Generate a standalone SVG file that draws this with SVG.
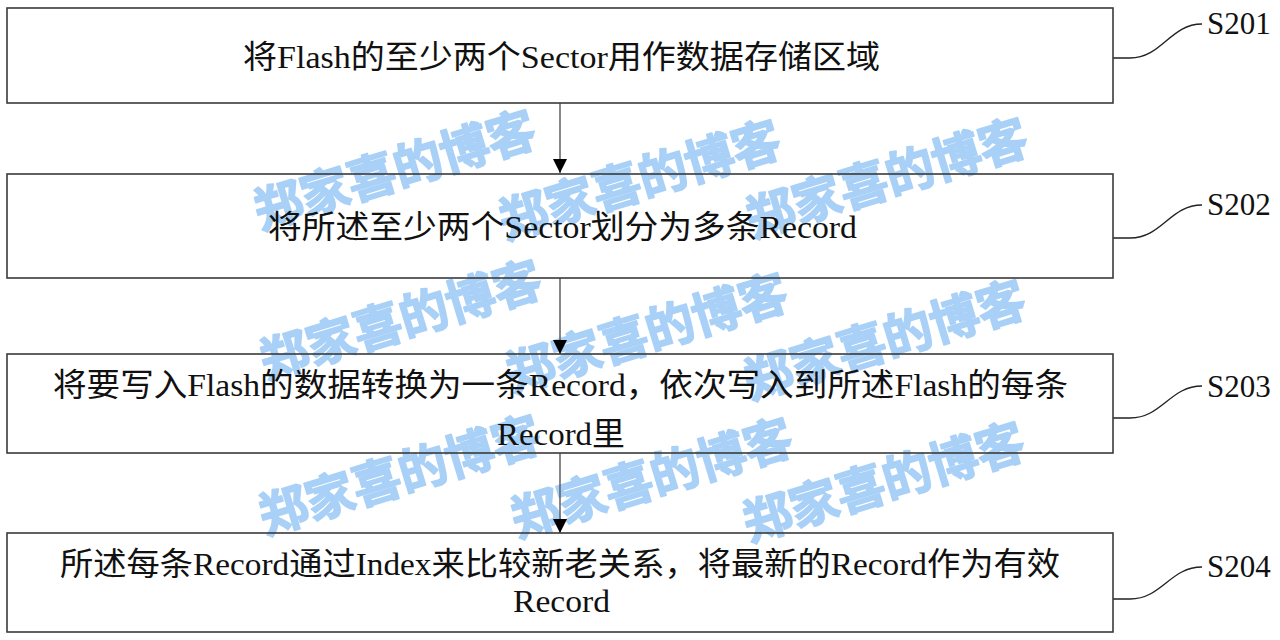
<svg xmlns="http://www.w3.org/2000/svg" width="1280" height="640" viewBox="0 0 1280 640">
<defs>
<style>
.box{fill:none;stroke:#3a3a3a;stroke-width:1.6}
.t{font-family:"Liberation Serif","Noto Sans CJK SC",serif;font-size:32px;fill:#111}
.lbl{font-family:"Liberation Serif","Noto Sans CJK SC",serif;font-size:31px;fill:#111}
.ld{fill:none;stroke:#222;stroke-width:1.4}
.ar{stroke:#555;stroke-width:1.4}
.wm{font-family:"Noto Sans CJK SC",sans-serif;font-weight:bold;font-size:49px;fill:#a9d0f7;stroke:#a9d0f7;stroke-width:1.6;stroke-linejoin:round;text-anchor:middle}
</style>
<marker id="ah" markerWidth="14" markerHeight="14" viewBox="0 0 14 14" refX="14" refY="7" orient="auto" markerUnits="userSpaceOnUse">
<path d="M0,0 L14,7 L0,14 Z" fill="#000"/>
</marker>
</defs>
<rect width="1280" height="640" fill="#fff"/>
<g id="watermark">
<text class="wm" textLength="292" transform="translate(400,187) rotate(-17)">郑家喜的博客</text>
<text class="wm" textLength="292" transform="translate(645,197) rotate(-17)">郑家喜的博客</text>
<text class="wm" textLength="292" transform="translate(892,195) rotate(-17)">郑家喜的博客</text>
<text class="wm" textLength="292" transform="translate(406,337) rotate(-17)">郑家喜的博客</text>
<text class="wm" textLength="292" transform="translate(652,350) rotate(-17)">郑家喜的博客</text>
<text class="wm" textLength="292" transform="translate(890,357) rotate(-17)">郑家喜的博客</text>
<text class="wm" textLength="292" transform="translate(405,492) rotate(-17)">郑家喜的博客</text>
<text class="wm" textLength="292" transform="translate(657,495) rotate(-17)">郑家喜的博客</text>
<text class="wm" textLength="292" transform="translate(889,499) rotate(-17)">郑家喜的博客</text>
</g>
<g id="connectors">
<line class="ar" x1="560" y1="103" x2="560" y2="173" marker-end="url(#ah)"/>
<line class="ar" x1="560" y1="278" x2="560" y2="354" marker-end="url(#ah)"/>
<line class="ar" x1="560" y1="453" x2="560" y2="533" marker-end="url(#ah)"/>
<path class="ld" d="M1113,58 L1130,58 C1162,58 1170,24 1202,24"/>
<path class="ld" d="M1113,238 L1130,238 C1162,238 1170,205 1202,205"/>
<path class="ld" d="M1113,418 L1130,418 C1162,418 1170,386 1202,386"/>
<path class="ld" d="M1113,599 L1130,599 C1162,599 1170,567 1202,567"/>
</g>
<g id="s201">
<rect class="box" x="7" y="8" width="1106" height="95"/>
<text class="t" x="243" y="68" textLength="637" lengthAdjust="spacingAndGlyphs">将Flash的至少两个Sector用作数据存储区域</text>
<text class="lbl" x="1207" y="34">S201</text>
</g>
<g id="s202">
<rect class="box" x="7" y="174" width="1106" height="104"/>
<text class="t" x="268" y="238" textLength="589" lengthAdjust="spacingAndGlyphs">将所述至少两个Sector划分为多条Record</text>
<text class="lbl" x="1207" y="215">S202</text>
</g>
<g id="s203">
<rect class="box" x="7" y="354" width="1106" height="99"/>
<text class="t" x="53" y="396" textLength="1015" lengthAdjust="spacingAndGlyphs">将要写入Flash的数据转换为一条Record，依次写入到所述Flash的每条</text>
<text class="t" x="497" y="445" textLength="128" lengthAdjust="spacingAndGlyphs">Record里</text>
<text class="lbl" x="1207" y="397">S203</text>
</g>
<g id="s204">
<rect class="box" x="7" y="533" width="1106" height="99"/>
<text class="t" x="60" y="575" textLength="1000" lengthAdjust="spacingAndGlyphs">所述每条Record通过Index来比较新老关系，将最新的Record作为有效</text>
<text class="t" x="513" y="612" textLength="97" lengthAdjust="spacingAndGlyphs">Record</text>
<text class="lbl" x="1207" y="577">S204</text>
</g>
</svg>
